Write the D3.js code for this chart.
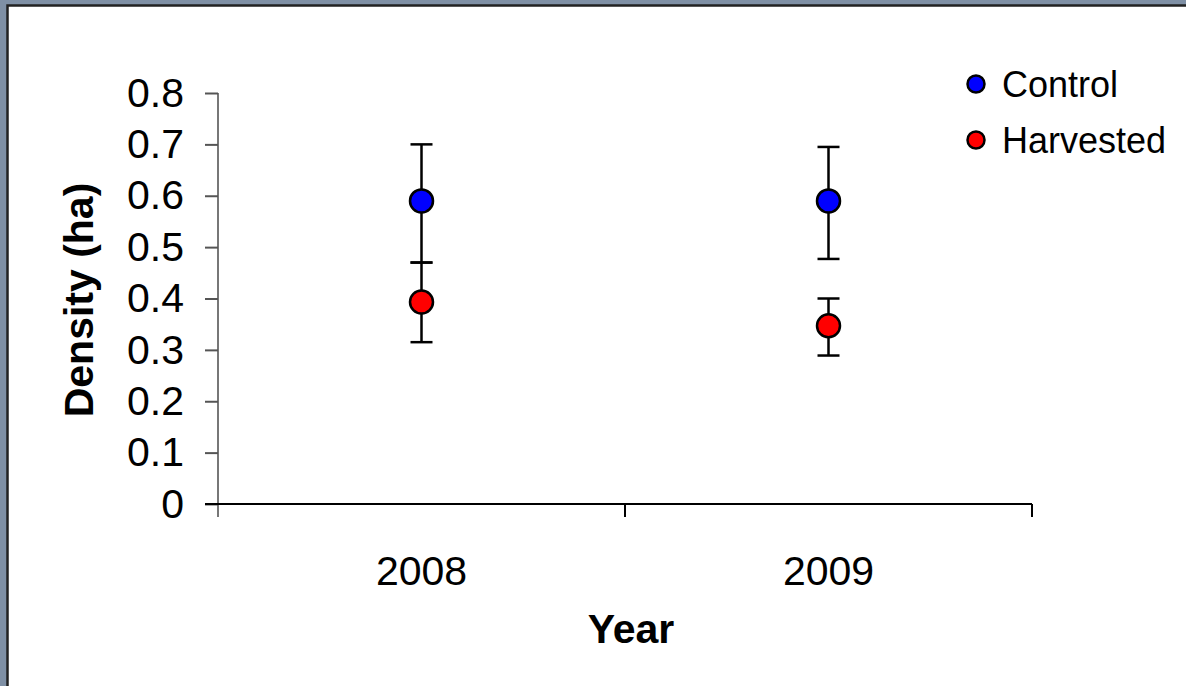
<!DOCTYPE html>
<html>
<head>
<meta charset="utf-8">
<script src="https://cdn.jsdelivr.net/npm/d3@7"></script>
<style>
  html, body { margin: 0; padding: 0; background: #7f90a5; }
  svg { display: block; }
</style>
</head>
<body>
<svg id="chart" width="1186" height="686"></svg>
<script>
// Density per hectare by year and treatment, with error bar bounds
const years = ["2008", "2009"];
const seriesNames = ["Control", "Harvested"];
const seriesColors = ["#0000ff", "#ff0000"];
const controlMean = [0.59, 0.59];
const controlLow = [0.47, 0.477];
const controlHigh = [0.70, 0.695];
const harvestedMean = [0.393, 0.347];
const harvestedLow = [0.315, 0.289];
const harvestedHigh = [0.47, 0.40];
const yTicks = [0, 0.1, 0.2, 0.3, 0.4, 0.5, 0.6, 0.7, 0.8];

const series = [
  { name: seriesNames[0], color: seriesColors[0], mean: controlMean, low: controlLow, high: controlHigh },
  { name: seriesNames[1], color: seriesColors[1], mean: harvestedMean, low: harvestedLow, high: harvestedHigh }
];

const svg = d3.select("#chart");
const font = "Arial, 'Liberation Sans', Helvetica, sans-serif";

// Slide frame: grey surround with a dark edge, white panel
svg.append("rect").attr("x", 0).attr("y", 0).attr("width", 1186).attr("height", 686).attr("fill", "#7f90a5");
svg.append("rect").attr("x", 7.5).attr("y", 5.5).attr("width", 1186).attr("height", 700)
  .attr("fill", "#ffffff").attr("stroke", "#222").attr("stroke-width", 2.5);

const plot = { left: 218, right: 1032, top: 93, bottom: 504 };

const x = d3.scaleBand().domain(years).range([plot.left, plot.right]).padding(0);
const y = d3.scaleLinear().domain([0, 0.8]).range([plot.bottom, plot.top]);

// Y axis
const yAxis = svg.append("g")
  .attr("transform", `translate(${plot.left},0)`)
  .call(d3.axisLeft(y).tickValues(yTicks).tickSize(13).tickPadding(21)
    .tickFormat(d => d === 0 ? "0" : d3.format(".1f")(d)));
yAxis.select(".domain").attr("stroke", "#777").attr("stroke-width", 2)
  .attr("d", `M0,${plot.top}V${plot.bottom + 13}`);
yAxis.selectAll(".tick line").attr("stroke", "#555").attr("stroke-width", 2);
yAxis.selectAll(".tick text").attr("font-family", font).attr("font-size", 41).attr("fill", "#000");

// X axis with ticks at category boundaries
const xAxisG = svg.append("g").attr("transform", `translate(0,${plot.bottom})`);
xAxisG.append("line").attr("x1", plot.left - 13).attr("x2", plot.right)
  .attr("y1", 0).attr("y2", 0).attr("stroke", "#000").attr("stroke-width", 2);
const boundaries = years.map(d => x(d)).concat([x(years[years.length - 1]) + x.bandwidth()]);
xAxisG.selectAll("line.xtick").data(boundaries.slice(1)).join("line")
  .attr("class", "xtick")
  .attr("x1", d => d).attr("x2", d => d).attr("y1", 0).attr("y2", 13)
  .attr("stroke", "#000").attr("stroke-width", 2);
xAxisG.selectAll("text.xlabel").data(years).join("text")
  .attr("class", "xlabel")
  .attr("x", d => x(d) + x.bandwidth() / 2)
  .attr("y", 81)
  .attr("text-anchor", "middle")
  .attr("font-family", font).attr("font-size", 41).attr("fill", "#000")
  .text(d => d);

// Axis titles
svg.append("text")
  .attr("x", 631).attr("y", 643)
  .attr("text-anchor", "middle")
  .attr("font-family", font).attr("font-size", 41).attr("font-weight", "bold")
  .text("Year");
svg.append("text")
  .attr("transform", `translate(93,300) rotate(-90)`)
  .attr("text-anchor", "middle")
  .attr("font-family", font).attr("font-size", 41).attr("font-weight", "bold")
  .text("Density (ha)");

// Error bars and points
const capHalf = 11;
series.forEach(s => {
  const g = svg.append("g");
  const rows = years.map((yr, i) => ({ yr, mean: s.mean[i], low: s.low[i], high: s.high[i] }));
  const cx = d => x(d.yr) + x.bandwidth() / 2;
  g.selectAll("line.whisker").data(rows).join("line")
    .attr("x1", cx).attr("x2", cx)
    .attr("y1", d => y(d.low)).attr("y2", d => y(d.high))
    .attr("stroke", "#000").attr("stroke-width", 2.5);
  ["low", "high"].forEach(k => {
    g.selectAll(`line.cap-${k}`).data(rows).join("line")
      .attr("x1", d => cx(d) - capHalf).attr("x2", d => cx(d) + capHalf)
      .attr("y1", d => y(d[k])).attr("y2", d => y(d[k]))
      .attr("stroke", "#000").attr("stroke-width", 2.5);
  });
  g.selectAll("circle").data(rows).join("circle")
    .attr("cx", cx).attr("cy", d => y(d.mean)).attr("r", 11.5)
    .attr("fill", s.color).attr("stroke", "#000").attr("stroke-width", 2.5);
});

// Legend
const legend = svg.append("g");
const legendRows = legend.selectAll("g").data(series).join("g")
  .attr("transform", (d, i) => `translate(976,${84 + i * 56})`);
legendRows.append("circle").attr("r", 8.5)
  .attr("fill", d => d.color).attr("stroke", "#000").attr("stroke-width", 2.5);
legendRows.append("text")
  .attr("x", 26).attr("y", 13)
  .attr("font-family", font).attr("font-size", 36).attr("fill", "#000")
  .text(d => d.name);
</script>
</body>
</html>
